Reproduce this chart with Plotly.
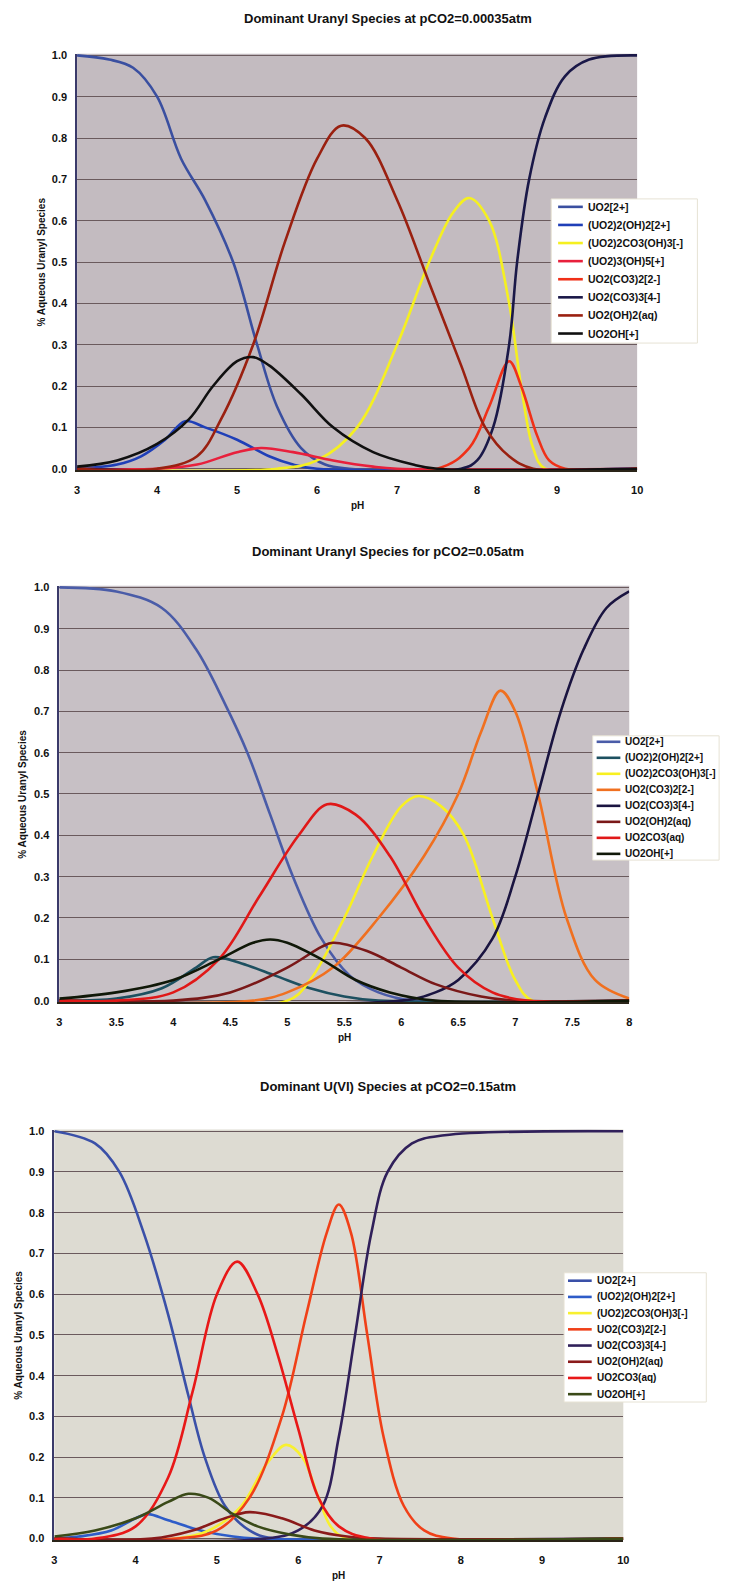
import plotly.graph_objects as go

# ---------------- Panel 1: pCO2 = 0.00035 atm ----------------
p1_names = ["UO2[2+]", "(UO2)2(OH)2[2+]", "(UO2)2CO3(OH)3[-]", "(UO2)3(OH)5[+]",
            "UO2(CO3)2[2-]", "UO2(CO3)3[4-]", "UO2(OH)2(aq)", "UO2OH[+]"]
p1_colors = ["#3a4fa0", "#1f3fb8", "#f5f020", "#e8203c", "#f03018", "#1a1848", "#9a2010", "#101010"]

p1_uo2_x = [3.0, 3.4, 3.7, 4.0, 4.3, 4.6, 4.95, 5.25, 5.5, 5.8, 6.1, 6.4, 10.0]
p1_uo2_y = [1.0, 0.99, 0.97, 0.9, 0.75, 0.65, 0.5, 0.3, 0.15, 0.05, 0.01, 0.0, 0.0]
p1_dim_x = [3.0, 3.5, 3.8, 4.1, 4.35, 4.6, 5.0, 5.4, 5.7, 6.0, 10.0]
p1_dim_y = [0.0, 0.01, 0.03, 0.07, 0.115, 0.1, 0.07, 0.03, 0.01, 0.0, 0.0]
p1_yel_x = [3.0, 5.5, 6.0, 6.5, 7.0, 7.4, 7.7, 7.9, 8.15, 8.4, 8.55, 8.7, 8.85, 10.0]
p1_yel_y = [0.0, 0.0, 0.02, 0.1, 0.3, 0.5, 0.62, 0.655, 0.6, 0.4, 0.2, 0.05, 0.0, 0.0]
p1_tri_x = [3.0, 4.0, 4.5, 5.0, 5.3, 5.7, 6.2, 6.7, 7.0, 10.0]
p1_tri_y = [0.0, 0.0, 0.01, 0.04, 0.05, 0.04, 0.02, 0.005, 0.0, 0.0]
p1_dic_x = [3.0, 7.5, 7.9, 8.15, 8.4, 8.55, 8.75, 8.9, 9.1, 10.0]
p1_dic_y = [0.0, 0.0, 0.05, 0.15, 0.26, 0.2, 0.08, 0.02, 0.0, 0.0]
p1_tric_x = [3.0, 7.8, 8.0, 8.2, 8.4, 8.5, 8.65, 8.85, 9.1, 9.4, 10.0]
p1_tric_y = [0.0, 0.0, 0.02, 0.1, 0.3, 0.5, 0.7, 0.85, 0.95, 0.99, 1.0]
p1_hyd_x = [3.0, 4.0, 4.5, 4.8, 5.2, 5.6, 6.0, 6.3, 6.6, 7.0, 7.4, 7.8, 8.1, 8.4, 8.7, 10.0]
p1_hyd_y = [0.0, 0.0, 0.03, 0.12, 0.3, 0.55, 0.75, 0.83, 0.8, 0.65, 0.45, 0.25, 0.1, 0.03, 0.0, 0.0]
p1_oh_x = [3.0, 3.5, 4.0, 4.4, 4.7, 5.0, 5.2, 5.4, 5.8, 6.2, 6.7, 7.2, 7.5, 10.0]
p1_oh_y = [0.005, 0.02, 0.06, 0.12, 0.2, 0.26, 0.27, 0.25, 0.18, 0.1, 0.04, 0.01, 0.0, 0.0]

p1_x = [p1_uo2_x, p1_dim_x, p1_yel_x, p1_tri_x, p1_dic_x, p1_tric_x, p1_hyd_x, p1_oh_x]
p1_y = [p1_uo2_y, p1_dim_y, p1_yel_y, p1_tri_y, p1_dic_y, p1_tric_y, p1_hyd_y, p1_oh_y]

# ---------------- Panel 2: pCO2 = 0.05 atm ----------------
p2_names = ["UO2[2+]", "(UO2)2(OH)2[2+]", "(UO2)2CO3(OH)3[-]", "UO2(CO3)2[2-]",
            "UO2(CO3)3[4-]", "UO2(OH)2(aq)", "UO2CO3(aq)", "UO2OH[+]"]
p2_colors = ["#4a5ca8", "#1d5060", "#f8f020", "#f07020", "#1a1440", "#7a1818", "#e01818", "#101808"]

p2_uo2_x = [3.0, 3.5, 3.9, 4.2, 4.45, 4.65, 4.85, 5.05, 5.3, 5.55, 5.8, 6.1, 8.0]
p2_uo2_y = [1.0, 0.99, 0.95, 0.85, 0.72, 0.6, 0.45, 0.3, 0.15, 0.06, 0.02, 0.0, 0.0]
p2_dim_x = [3.0, 3.5, 3.9, 4.2, 4.35, 4.6, 4.9, 5.2, 5.5, 5.8, 8.0]
p2_dim_y = [0.0, 0.005, 0.03, 0.08, 0.105, 0.09, 0.06, 0.03, 0.01, 0.0, 0.0]
p2_yel_x = [3.0, 5.0, 5.2, 5.5, 5.75, 6.0, 6.15, 6.35, 6.55, 6.8, 7.0, 7.15, 8.0]
p2_yel_y = [0.0, 0.0, 0.05, 0.2, 0.35, 0.47, 0.495, 0.47, 0.4, 0.2, 0.05, 0.0, 0.0]
p2_dic_x = [3.0, 4.7, 5.0, 5.4, 5.8, 6.2, 6.5, 6.7, 6.87, 7.0, 7.2, 7.45, 7.7, 8.0]
p2_dic_y = [0.0, 0.0, 0.02, 0.08, 0.2, 0.35, 0.5, 0.65, 0.75, 0.7, 0.5, 0.2, 0.05, 0.005]
p2_tric_x = [3.0, 6.0, 6.3, 6.5, 6.8, 7.0, 7.2, 7.4, 7.6, 7.8, 8.0]
p2_tric_y = [0.0, 0.0, 0.02, 0.05, 0.15, 0.3, 0.5, 0.7, 0.85, 0.95, 0.99]
p2_hyd_x = [3.0, 4.0, 4.5, 5.0, 5.3, 5.4, 5.7, 6.0, 6.3, 6.7, 7.0, 8.0]
p2_hyd_y = [0.0, 0.0, 0.02, 0.08, 0.13, 0.14, 0.12, 0.08, 0.04, 0.01, 0.0, 0.0]
p2_mon_x = [3.0, 3.5, 4.0, 4.4, 4.75, 5.1, 5.35, 5.6, 5.9, 6.2, 6.5, 6.8, 7.1, 8.0]
p2_mon_y = [0.0, 0.0, 0.02, 0.1, 0.25, 0.4, 0.475, 0.45, 0.35, 0.2, 0.08, 0.02, 0.0, 0.0]
p2_oh_x = [3.0, 3.5, 4.0, 4.4, 4.7, 4.85, 5.0, 5.3, 5.6, 5.9, 6.3, 8.0]
p2_oh_y = [0.005, 0.02, 0.05, 0.1, 0.14, 0.148, 0.14, 0.1, 0.05, 0.02, 0.0, 0.0]

p2_x = [p2_uo2_x, p2_dim_x, p2_yel_x, p2_dic_x, p2_tric_x, p2_hyd_x, p2_mon_x, p2_oh_x]
p2_y = [p2_uo2_y, p2_dim_y, p2_yel_y, p2_dic_y, p2_tric_y, p2_hyd_y, p2_mon_y, p2_oh_y]

# ---------------- Panel 3: pCO2 = 0.15 atm ----------------
p3_names = p2_names
p3_colors = ["#3a50a8", "#2e5cc8", "#f8f030", "#f04018", "#30205a", "#8a1a1a", "#e81818", "#3a4a18"]

p3_uo2_x = [3.0, 3.5, 3.8, 4.1, 4.4, 4.65, 4.85, 5.1, 5.4, 5.7, 10.0]
p3_uo2_y = [1.0, 0.97, 0.9, 0.75, 0.55, 0.35, 0.2, 0.08, 0.02, 0.0, 0.0]
p3_dim_x = [3.0, 3.3, 3.7, 4.0, 4.15, 4.4, 4.8, 5.2, 5.5, 10.0]
p3_dim_y = [0.0, 0.005, 0.02, 0.05, 0.06, 0.045, 0.02, 0.005, 0.0, 0.0]
p3_yel_x = [3.0, 4.5, 4.9, 5.3, 5.6, 5.85, 6.05, 6.25, 6.4, 6.6, 10.0]
p3_yel_y = [0.0, 0.0, 0.02, 0.08, 0.18, 0.23, 0.2, 0.1, 0.03, 0.0, 0.0]
p3_dic_x = [3.0, 4.5, 5.0, 5.4, 5.8, 6.1, 6.35, 6.5, 6.65, 6.85, 7.05, 7.3, 7.55, 7.9, 10.0]
p3_dic_y = [0.0, 0.0, 0.02, 0.1, 0.3, 0.55, 0.75, 0.82, 0.75, 0.5, 0.25, 0.08, 0.02, 0.0, 0.0]
p3_tric_x = [3.0, 5.6, 6.0, 6.3, 6.5, 6.7, 6.9, 7.1, 7.4, 7.8, 10.0]
p3_tric_y = [0.0, 0.0, 0.02, 0.08, 0.25, 0.5, 0.75, 0.9, 0.97, 0.99, 1.0]
p3_hyd_x = [3.0, 4.2, 4.7, 5.1, 5.4, 5.8, 6.2, 6.6, 7.0, 10.0]
p3_hyd_y = [0.0, 0.0, 0.02, 0.05, 0.065, 0.05, 0.02, 0.005, 0.0, 0.0]
p3_mon_x = [3.0, 3.5, 4.0, 4.4, 4.7, 5.0, 5.25, 5.5, 5.75, 6.0, 6.25, 6.5, 6.9, 10.0]
p3_mon_y = [0.0, 0.0, 0.03, 0.15, 0.36, 0.6, 0.68, 0.6, 0.45, 0.27, 0.1, 0.03, 0.0, 0.0]
p3_oh_x = [3.0, 3.5, 4.0, 4.4, 4.65, 4.9, 5.2, 5.5, 5.9, 6.3, 10.0]
p3_oh_y = [0.005, 0.02, 0.05, 0.09, 0.11, 0.1, 0.06, 0.03, 0.01, 0.0, 0.0]

p3_x = [p3_uo2_x, p3_dim_x, p3_yel_x, p3_dic_x, p3_tric_x, p3_hyd_x, p3_mon_x, p3_oh_x]
p3_y = [p3_uo2_y, p3_dim_y, p3_yel_y, p3_dic_y, p3_tric_y, p3_hyd_y, p3_mon_y, p3_oh_y]

titles = ["Dominant Uranyl Species at pCO2=0.00035atm",
          "Dominant Uranyl Species for pCO2=0.05atm",
          "Dominant U(VI) Species at pCO2=0.15atm"]
y_title = "% Aqueous Uranyl Species"
x_title = "pH"
y_ticks = [i / 10 for i in range(11)]
y_ticktext = ["%.1f" % v for v in y_ticks]

W, H = 735, 1585

# Panel geometry in pixels (left, right, top, bottom)
boxes = [(75, 642, 49, 468), (57, 634, 584, 1003), (52, 628, 1131, 1544)]
x_ranges = [(3, 10, 1), (3, 8, 0.5), (3, 10, 1)]
bgs = ["#c3bbc0", "#c7c0c5", "#dddbd2"]
# legend box (left, right, top, bottom); line sample x0/x1, text x, first row y, row step, font size
legend_boxes = [(555, 703, 195, 340), (597, 725, 735, 860), (568, 712, 1275, 1405)]
legend_rows = [(562, 587, 590, 203, 18.2, 10.5), (601, 625, 628, 741, 16.1, 10),
               (572, 596, 599, 1283, 16.3, 10)]
ytitle_x = [38, 20, 16]
ptitle_y = [14, 550, 1088]

panels = [(p1_names, p1_colors, p1_x, p1_y), (p2_names, p2_colors, p2_x, p2_y),
          (p3_names, p3_colors, p3_x, p3_y)]

fig = go.Figure()
font_fam = "Liberation Sans, Arial, sans-serif"


def px(v):
    return v / W


def py(v):
    return 1 - v / H


for i, (names, colors, xs, ys) in enumerate(panels):
    sfx = "" if i == 0 else str(i + 1)
    for n, c, xx, yy in zip(names, colors, xs, ys):
        fig.add_trace(go.Scatter(x=xx, y=yy, name=n, mode="lines", showlegend=False,
                                 line=dict(color=c, width=2.6, shape="spline", smoothing=1.0),
                                 xaxis="x" + sfx, yaxis="y" + sfx))
    l, r, t, b = boxes[i]
    x0, x1, dt = x_ranges[i]
    fig.update_layout(**{
        "xaxis" + sfx: dict(domain=[px(l), px(r)], anchor="y" + sfx, range=[x0, x1],
                            dtick=dt, tick0=x0, showgrid=False, zeroline=False,
                            showline=True, linecolor="#2a2418", linewidth=1.5,
                            ticks="", ticklabelstandoff=9,
                            tickfont=dict(family=font_fam, size=11, color="#111", weight="bold")),
        "yaxis" + sfx: dict(domain=[py(b), py(t)], anchor="x" + sfx,
                            range=[-0.004, 1.004], tickvals=y_ticks, ticktext=y_ticktext,
                            showgrid=True, gridcolor="#6a5a5d", gridwidth=1, zeroline=False,
                            showline=True, linecolor="#3a3a6a", linewidth=1.5,
                            ticks="", ticklabelstandoff=6,
                            tickfont=dict(family=font_fam, size=11, color="#111", weight="bold")),
    })
    fig.add_shape(type="rect", xref="paper", yref="paper", x0=px(l), x1=px(r),
                  y0=py(b), y1=py(t), fillcolor=bgs[i], line=dict(width=0),
                  layer="below")
    # legend box
    lb = legend_boxes[i]
    fig.add_shape(type="rect", xref="paper", yref="paper", x0=px(lb[0]), x1=px(lb[1]),
                  y0=py(lb[3]), y1=py(lb[2]), fillcolor="white",
                  line=dict(color="#e6e2d4", width=1), layer="above")
    lx0, lx1, tx, ry0, rstep, fs = legend_rows[i]
    for k, (n, c) in enumerate(zip(names, colors)):
        yy = ry0 + k * rstep
        fig.add_shape(type="line", xref="paper", yref="paper", x0=px(lx0), x1=px(lx1),
                      y0=py(yy), y1=py(yy), line=dict(color=c, width=2.6), layer="above")
        fig.add_annotation(text="<b>" + n + "</b>", xref="paper", yref="paper",
                           x=px(tx), y=py(yy), showarrow=False, xanchor="left",
                           yanchor="middle", font=dict(family=font_fam, size=fs, color="#111"))
    fig.add_annotation(text="<b>" + titles[i] + "</b>", xref="paper", yref="paper",
                       x=px(390), y=py(ptitle_y[i]), showarrow=False,
                       xanchor="center", yanchor="middle",
                       font=dict(family=font_fam, size=13, color="#111"))
    fig.add_annotation(text="<b>" + x_title + "</b>", xref="paper", yref="paper",
                       x=px((l + r) / 2), y=py(b + 35), showarrow=False,
                       xanchor="center", yanchor="middle",
                       font=dict(family=font_fam, size=10, color="#111"))
    fig.add_annotation(text="<b>" + y_title + "</b>", xref="paper", yref="paper",
                       x=px(ytitle_x[i]), y=py((t + b) / 2), showarrow=False,
                       textangle=-90, xanchor="center", yanchor="middle",
                       font=dict(family=font_fam, size=10, color="#111"))

fig.update_layout(width=W, height=H, margin=dict(l=0, r=0, t=0, b=0),
                  paper_bgcolor="white", plot_bgcolor="rgba(0,0,0,0)", showlegend=False)

fig.write_html("out.html")
